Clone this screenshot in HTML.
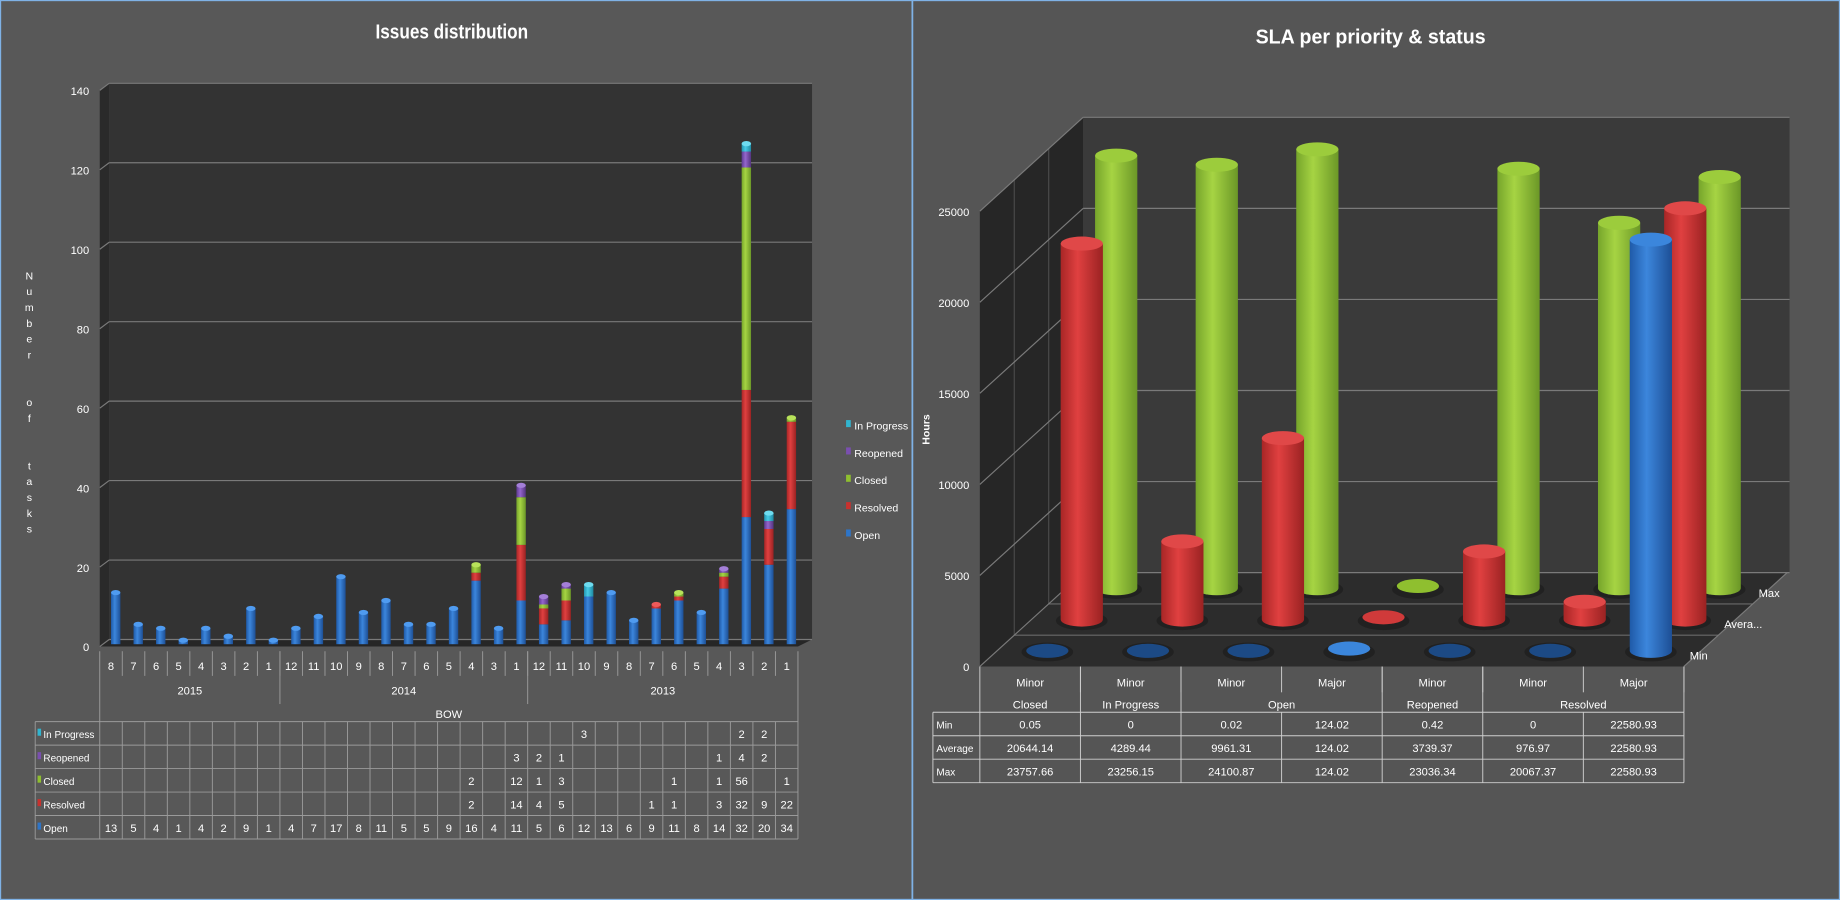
<!DOCTYPE html>
<html><head><meta charset="utf-8">
<style>
html,body{margin:0;padding:0;background:#575757;}
svg{display:block;font-family:"Liberation Sans",sans-serif;}
</style></head>
<body>
<svg id="root" width="1840" height="900" viewBox="0 0 1568 767" preserveAspectRatio="none" xmlns="http://www.w3.org/2000/svg">
<defs>
 <linearGradient id="gBlue" x1="0" x2="1"><stop offset="0" stop-color="#1f5aa8"/><stop offset="0.4" stop-color="#3c86dc"/><stop offset="1" stop-color="#1d4f95"/></linearGradient>
 <linearGradient id="gRed" x1="0" x2="1"><stop offset="0" stop-color="#a82626"/><stop offset="0.4" stop-color="#e04040"/><stop offset="1" stop-color="#9a2222"/></linearGradient>
 <linearGradient id="gGreen" x1="0" x2="1"><stop offset="0" stop-color="#76a52b"/><stop offset="0.4" stop-color="#a6d443"/><stop offset="1" stop-color="#6b9727"/></linearGradient>
 <linearGradient id="gPurple" x1="0" x2="1"><stop offset="0" stop-color="#5e3a92"/><stop offset="0.4" stop-color="#9466cc"/><stop offset="1" stop-color="#54347f"/></linearGradient>
 <linearGradient id="gCyan" x1="0" x2="1"><stop offset="0" stop-color="#2496b0"/><stop offset="0.4" stop-color="#47cbe6"/><stop offset="1" stop-color="#1f8aa2"/></linearGradient>
</defs>
<rect x="0" y="0" width="777" height="767" fill="#585858"/>
<rect x="778" y="0" width="790" height="767" fill="#555555"/>
<rect x="0.5" y="0.5" width="1567" height="766" fill="none" stroke="#7fb2e6" stroke-width="1"/>
<line x1="777.5" y1="0" x2="777.5" y2="767" stroke="#7fb2e6" stroke-width="1.5"/>
<g id="left"></g>
<g id="right"></g>
</svg>
<script>
// ---------- Left chart data ----------
const months = [8,7,6,5,4,3,2,1,12,11,10,9,8,7,6,5,4,3,1,12,11,10,9,8,7,6,5,4,3,2,1];
const years = ["2015","2014","2013"];
const yearCounts = [8,11,12];
const seriesNames = ["Open","Resolved","Closed","Reopened","In Progress"];
const openVals =       [13,5,4,1,4,2,9,1,4,7,17,8,11,5,5,9,16,4,11,5,6,12,13,6,9,11,8,14,32,20,34];
const resolvedVals =   [0,0,0,0,0,0,0,0,0,0,0,0,0,0,0,0,2,0,14,4,5,0,0,0,1,1,0,3,32,9,22];
const closedVals =     [0,0,0,0,0,0,0,0,0,0,0,0,0,0,0,0,2,0,12,1,3,0,0,0,0,1,0,1,56,0,1];
const reopenedVals =   [0,0,0,0,0,0,0,0,0,0,0,0,0,0,0,0,0,0,3,2,1,0,0,0,0,0,0,1,4,2,0];
const inProgressVals = [0,0,0,0,0,0,0,0,0,0,0,0,0,0,0,0,0,0,0,0,0,3,0,0,0,0,0,0,2,2,0];
const yTicksL = [0,20,40,60,80,100,120,140];

// ---------- Right chart data ----------
const slaPriority = ["Minor","Minor","Minor","Major","Minor","Minor","Major"];
const slaStatus = ["Closed","In Progress","Open","Reopened","Resolved"];
const slaStatusSpan = [1,1,2,1,2];
const slaMin = [0.05,0,0.02,124.02,0.42,0,22580.93];
const slaAvg = [20644.14,4289.44,9961.31,124.02,3739.37,976.97,22580.93];
const slaMax = [23757.66,23256.15,24100.87,124.02,23036.34,20067.37,22580.93];
const slaMinLbl = ["0.05","0","0.02","124.02","0.42","0","22580.93"];
const slaAvgLbl = ["20644.14","4289.44","9961.31","124.02","3739.37","976.97","22580.93"];
const slaMaxLbl = ["23757.66","23256.15","24100.87","124.02","23036.34","20067.37","22580.93"];
const yTicksR = [0,5000,10000,15000,20000,25000];
const depthNames = ["Min","Avera...","Max"];

const NS="http://www.w3.org/2000/svg";
function mk(parent,tag,attrs,text){const e=document.createElementNS(NS,tag);for(const k in attrs)e.setAttribute(k,attrs[k]);if(text!==undefined)e.textContent=text;parent.appendChild(e);return e;}
const FS=9.5;

// ======== LEFT CHART ========
const L=document.getElementById('left');
const t1=mk(L,'text',{x:385,y:33,'text-anchor':'middle',fill:'#fff','font-size':17,'font-weight':'bold',textLength:130,lengthAdjust:'spacingAndGlyphs'},'Issues distribution');


const n=months.length, x0=85, x1=680, colW=(x1-x0)/n, yBase=551, unit=(551-77)/140, dX=8, dY=-6;
function yL(v){return yBase-v*unit;}
const bw=mk(L,'polygon',{points:`${x0+dX},${yBase+dY} ${x1+12},${yBase+dY} ${x1+12},${yL(140)+dY} ${x0+dX},${yL(140)+dY}`,fill:'#333333'});


mk(L,'polygon',{points:`${x0},${yBase} ${x0+dX},${yBase+dY} ${x0+dX},${yL(140)+dY} ${x0},${yL(140)}`,fill:'#2a2a2a'});
mk(L,'polygon',{points:`${x0},${yBase} ${x1},${yBase} ${x1+12},${yBase+dY} ${x0+dX},${yBase+dY}`,fill:'#262626'});
yTicksL.forEach(v=>{
  mk(L,'line',{x1:x0+dX,y1:yL(v)+dY,x2:x1+12,y2:yL(v)+dY,stroke:'#7a7a7a','stroke-width':1});
  mk(L,'line',{x1:x0,y1:yL(v),x2:x0+dX,y2:yL(v)+dY,stroke:'#7a7a7a','stroke-width':1});
  const tl=mk(L,'text',{x:76,y:yL(v)+4,'text-anchor':'end',fill:'#fff','font-size':FS},String(v));
  
  
});
const ttl="Number  of  tasks";
const yt=mk(L,'g',{});


for(let i=0;i<ttl.length;i++){ if(ttl[i]!==' ') mk(yt,'text',{x:25,y:238+i*13.5,'text-anchor':'middle',fill:'#fff','font-size':9},ttl[i]); }
const allSeries=[openVals,resolvedVals,closedVals,reopenedVals,inProgressVals];
const fills=['url(#gBlue)','url(#gRed)','url(#gGreen)','url(#gPurple)','url(#gCyan)'];
const tops=['#4f9bf0','#ef5a5a','#b8e25a','#a47fd8','#6edcf0'];
for(let i=0;i<n;i++){
  const cx=x0+(i+0.5)*colW+4, w=8;
  let acc=0;
  const g=mk(L,'g',{});
  
  
  let lastTop=null;
  allSeries.forEach((s,k)=>{
    const v=s[i]; if(!v) return;
    const yT=yL(acc+v)-2, yB=yL(acc)-2;
    const r=mk(g,'rect',{x:cx-w/2,y:yT,width:w,height:yB-yT,fill:fills[k]});
    
    
    acc+=v; lastTop=k;
  });
  if(lastTop!==null) mk(g,'ellipse',{cx:cx,cy:yL(acc)-2,rx:w/2,ry:2.2,fill:tops[lastTop]});
}
const legCols=['#31b5d0','#7a4fb0','#8fbf2f','#c8312e','#2e75c8'];
const legNames=["In Progress","Reopened","Closed","Resolved","Open"];
legNames.forEach((nm,i)=>{
  const g=mk(L,'g',{});
  
  
  mk(g,'rect',{x:721,y:358+i*23.3,width:4,height:6,fill:legCols[i]});
  mk(g,'text',{x:728,y:366+i*23.3,fill:'#fff','font-size':9},nm);
});
const tb=mk(L,'g',{stroke:'#9a9a9a','stroke-width':0.8,fill:'none'});


const rowTop=615, rowH=20;
mk(tb,'line',{x1:x1,y1:555,x2:x1,y2:rowTop+5*rowH});
mk(tb,'line',{x1:x0,y1:555,x2:x0,y2:rowTop+5*rowH});
for(let i=1;i<n;i++) mk(tb,'line',{x1:x0+i*colW,y1:555,x2:x0+i*colW,y2:576});
let cum=0;
years.forEach((yr,j)=>{
  const xs=x0+cum*colW, xe=x0+(cum+yearCounts[j])*colW;
  if(j>0) mk(tb,'line',{x1:xs,y1:555,x2:xs,y2:600});
  const tt=mk(L,'text',{x:(xs+xe)/2,y:592,'text-anchor':'middle',fill:'#fff','font-size':FS},yr);
  
  
  cum+=yearCounts[j];
});
months.forEach((m,i)=>{mk(L,'text',{x:x0+(i+0.5)*colW,y:571,'text-anchor':'middle',fill:'#fff','font-size':FS},String(m));});
mk(L,'text',{x:(x0+x1)/2,y:612,'text-anchor':'middle',fill:'#fff','font-size':FS},'BOW');
mk(tb,'line',{x1:30,y1:rowTop,x2:x1,y2:rowTop});
const tblSeries=[inProgressVals,reopenedVals,closedVals,resolvedVals,openVals];
legNames.forEach((nm,r)=>{
  const y=rowTop+r*rowH;
  mk(tb,'line',{x1:30,y1:y+rowH,x2:x1,y2:y+rowH});
  mk(L,'rect',{x:32,y:y+6,width:3,height:6,fill:legCols[r]});
  mk(L,'text',{x:37,y:y+14,fill:'#fff','font-size':8.5},nm);
  for(let i=0;i<n;i++){
    const v=tblSeries[r][i];
    if(v) mk(L,'text',{x:x0+(i+0.5)*colW,y:y+14,'text-anchor':'middle',fill:'#fff','font-size':FS},String(v));
  }
});
mk(tb,'line',{x1:30,y1:rowTop,x2:30,y2:rowTop+5*rowH});
for(let i=1;i<n;i++) mk(tb,'line',{x1:x0+i*colW,y1:rowTop,x2:x0+i*colW,y2:rowTop+5*rowH});

// ======== RIGHT CHART ========
const R=document.getElementById('right');
const t2=mk(R,'text',{x:1168,y:37,'text-anchor':'middle',fill:'#fff','font-size':17,'font-weight':'bold',textLength:196,lengthAdjust:'spacingAndGlyphs'},'SLA per priority & status');


const rx0=835, rx1=1435, ry0=568, DX=88, DY=-80, sc=388/25000;
const nc=slaMin.length, cW=(rx1-rx0)/nc;
function yR(v){return ry0-v*sc;}
mk(R,'polygon',{points:`${rx0+DX},${ry0+DY} ${rx1+DX+2},${ry0+DY} ${rx1+DX+2},${yR(25000)+DY} ${rx0+DX},${yR(25000)+DY}`,fill:'#3a3a3a'});
mk(R,'polygon',{points:`${rx0},${ry0} ${rx0+DX},${ry0+DY} ${rx0+DX},${yR(25000)+DY} ${rx0},${yR(25000)}`,fill:'#262626'});
mk(R,'polygon',{points:`${rx0},${ry0} ${rx1},${ry0} ${rx1+DX},${ry0+DY} ${rx0+DX},${ry0+DY}`,fill:'#2c2c2c'});
for(let k=1;k<3;k++) mk(R,'polyline',{points:`${rx0+k*DX/3},${ry0+k*DY/3} ${rx1+k*DX/3},${ry0+k*DY/3} `,stroke:'#6a6a6a',fill:'none','stroke-width':1});
for(let k=1;k<3;k++) mk(R,'line',{x1:rx0+k*DX/3,y1:ry0+k*DY/3,x2:rx0+k*DX/3,y2:yR(25000)+k*DY/3,stroke:'#4a4a4a','stroke-width':1});
yTicksR.forEach(v=>{
  mk(R,'line',{x1:rx0+DX,y1:yR(v)+DY,x2:rx1+DX+2,y2:yR(v)+DY,stroke:'#7a7a7a','stroke-width':1});
  mk(R,'line',{x1:rx0,y1:yR(v),x2:rx0+DX,y2:yR(v)+DY,stroke:'#7a7a7a','stroke-width':1});
  const tl=mk(R,'text',{x:826,y:yR(v)+4,'text-anchor':'end',fill:'#fff','font-size':FS},String(v));
  
  
});
mk(R,'line',{x1:rx1,y1:ry0,x2:rx1+DX,y2:ry0+DY,stroke:'#7a7a7a'});
const hrs=mk(R,'text',{x:792,y:366,'text-anchor':'middle',fill:'#fff','font-size':9,'font-weight':'bold',transform:'rotate(-90 792 366)'},'Hours');


depthNames.forEach((d,k)=>{
  const dl=mk(R,'text',{x:rx1+5+k*DX/3,y:ry0-10+k*DY/3+4,fill:'#fff','font-size':FS},d);
  
  
});
const rows=[slaMax,slaAvg,slaMin];
const rowK=[2,1,0];
const cylFill=['url(#gBlue)','url(#gRed)','url(#gGreen)'];
const cylTop=['#3b86dc','#e04848','#9ccc3c'];
const cylZero=['#1c4a85','#d03a3a','#8fbf2f'];
const rowNm=['min','average','max'];
rows.forEach((arr,ri)=>{
  const k=rowK[ri];
  for(let i=0;i<nc;i++){
    const cx=rx0+(i+0.5)*cW+(k+0.5)*DX/3, base=ry0+(k+0.5)*DY/3, h=arr[i]*sc, rw=18, re=6;
    const g=mk(R,'g',{});
    
    
    mk(g,'ellipse',{cx:cx,cy:base+1,rx:rw+4,ry:re+2,fill:'#1a1a1a',opacity:0.6});
    if(h<3){
      mk(g,'ellipse',{cx:cx,cy:base-h,rx:rw,ry:re,fill:(k===0&&i===3)?'#3b86dc':cylZero[k]});
    } else {
      mk(g,'path',{d:`M${cx-rw},${base-h} L${cx-rw},${base} A${rw},${re} 0 0 0 ${cx+rw},${base} L${cx+rw},${base-h} Z`,fill:cylFill[k]});
      mk(g,'ellipse',{cx:cx,cy:base-h,rx:rw,ry:re,fill:cylTop[k]});
    }
  }
});
const rt=mk(R,'g',{stroke:'#cfcfcf','stroke-width':0.8,fill:'none'});


const tTop=607, tRH=20, lblX=795;
mk(rt,'line',{x1:rx0,y1:ry0,x2:rx0,y2:tTop+3*tRH});
for(let i=1;i<=nc;i++) mk(rt,'line',{x1:rx0+i*cW,y1:ry0,x2:rx0+i*cW,y2:ry0+22});
slaPriority.forEach((p,i)=>mk(R,'text',{x:rx0+(i+0.5)*cW,y:585,'text-anchor':'middle',fill:'#fff','font-size':FS},p));
let c2=0;
slaStatus.forEach((s,j)=>{
  const xs=rx0+c2*cW, xe=rx0+(c2+slaStatusSpan[j])*cW;
  mk(rt,'line',{x1:xe,y1:ry0,x2:xe,y2:tTop});
  mk(R,'text',{x:(xs+xe)/2,y:604,'text-anchor':'middle',fill:'#fff','font-size':FS},s);
  c2+=slaStatusSpan[j];
});
const tRows=[["Min",slaMinLbl],["Average",slaAvgLbl],["Max",slaMaxLbl]];
mk(rt,'line',{x1:lblX,y1:tTop,x2:rx1,y2:tTop});
mk(rt,'line',{x1:lblX,y1:tTop,x2:lblX,y2:tTop+3*tRH});
for(let i=1;i<=nc;i++) mk(rt,'line',{x1:rx0+i*cW,y1:tTop,x2:rx0+i*cW,y2:tTop+3*tRH});
tRows.forEach((r,ri)=>{
  const y=tTop+ri*tRH;
  mk(rt,'line',{x1:lblX,y1:y+tRH,x2:rx1,y2:y+tRH});
  mk(R,'text',{x:lblX+3,y:y+14,fill:'#fff','font-size':8.5},r[0]);
  r[1].forEach((v,i)=>mk(R,'text',{x:rx0+(i+0.5)*cW,y:y+14,'text-anchor':'middle',fill:'#fff','font-size':FS},v));
});
</script>
</body></html>
